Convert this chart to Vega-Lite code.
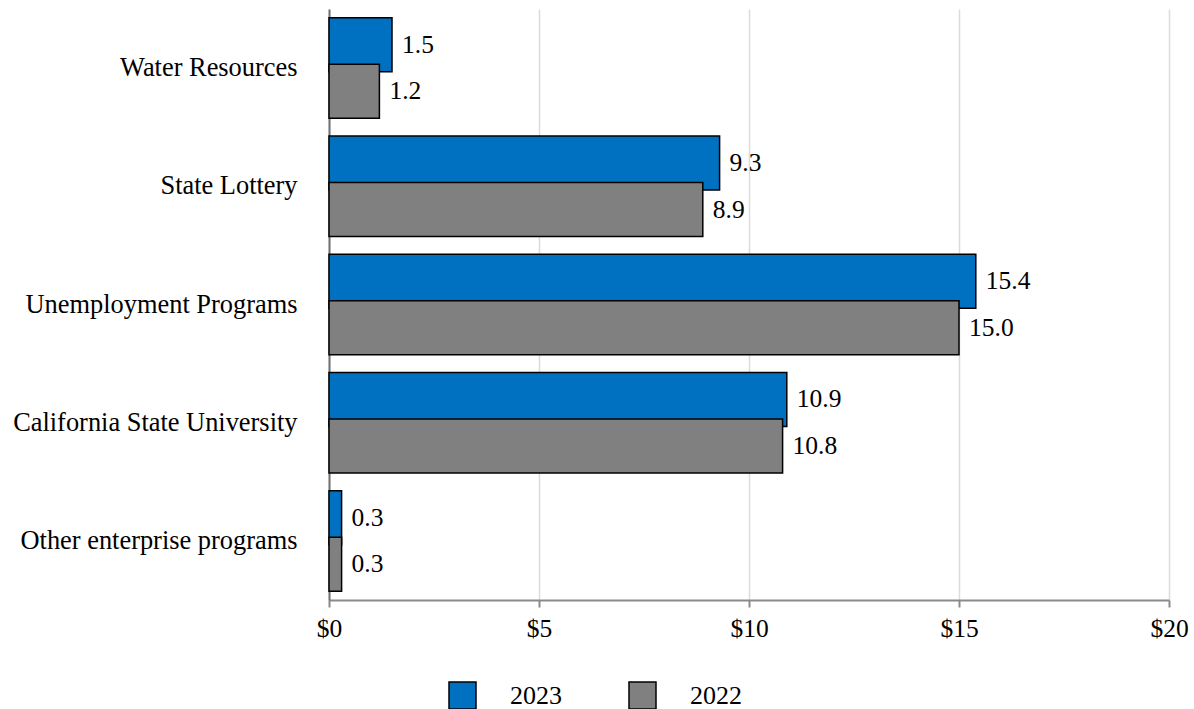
{
  "$schema": "https://vega.github.io/schema/vega-lite/v6.json",
  "autosize": "none",
  "width": 840,
  "height": 591,
  "padding": {"left": 329, "top": 9, "right": 25, "bottom": 109},
  "background": "white",
  "config": {
    "font": "Liberation Serif, Times New Roman, serif",
    "view": {"stroke": null},
    "text": {"font": "Liberation Serif, Times New Roman, serif"},
    "axis": {"labelFont": "Liberation Serif, Times New Roman, serif", "labelColor": "black"},
    "legend": {"labelFont": "Liberation Serif, Times New Roman, serif", "labelColor": "black"}
  },
  "data": {
    "values": [
      {"category": "Water Resources", "year": "2023", "value": 1.5},
      {"category": "State Lottery", "year": "2023", "value": 9.3},
      {"category": "Unemployment Programs", "year": "2023", "value": 15.4},
      {"category": "California State University", "year": "2023", "value": 10.9},
      {"category": "Other enterprise programs", "year": "2023", "value": 0.3},
      {"category": "Water Resources", "year": "2022", "value": 1.2},
      {"category": "State Lottery", "year": "2022", "value": 8.9},
      {"category": "Unemployment Programs", "year": "2022", "value": 15.0},
      {"category": "California State University", "year": "2022", "value": 10.8},
      {"category": "Other enterprise programs", "year": "2022", "value": 0.3}
    ]
  },
  "encoding": {
    "y": {
      "field": "category",
      "type": "nominal",
      "sort": ["Water Resources", "State Lottery", "Unemployment Programs", "California State University", "Other enterprise programs"],
      "scale": {"paddingInner": 0, "paddingOuter": 0},
      "axis": {
        "title": null,
        "ticks": false,
        "labelPadding": 32,
        "labelFontSize": 26.4,
        "labelLimit": 500,
        "domainColor": "#707070",
        "domainWidth": 2,
        "grid": false
      }
    },
    "yOffset": {
      "field": "year",
      "type": "nominal",
      "sort": ["2023", "2022"],
      "scale": {"paddingInner": 0, "paddingOuter": 0.27}
    },
    "x": {
      "field": "value",
      "type": "quantitative",
      "scale": {"domain": [0, 20], "nice": false},
      "axis": {
        "title": null,
        "values": [0, 5, 10, 15, 20],
        "format": "$,.0f",
        "labelFontSize": 25.5,
        "labelPadding": 9,
        "labelFlush": false,
        "tickSize": 7,
        "tickWidth": 2,
        "tickColor": "#8a8a8a",
        "domainColor": "#8a8a8a",
        "domainWidth": 2,
        "grid": true,
        "gridColor": "#dcdcdc",
        "gridWidth": 1.5
      }
    }
  },
  "layer": [
    {
      "mark": {"type": "bar", "height": 54, "stroke": "black", "strokeWidth": 1.5},
      "encoding": {
        "color": {
          "field": "year",
          "type": "nominal",
          "scale": {"domain": ["2023", "2022"], "range": ["#0070C0", "#808080"]},
          "legend": {
            "title": null,
            "orient": "none",
            "legendX": 119,
            "legendY": 672,
            "direction": "horizontal",
            "symbolType": "square",
            "symbolSize": 729,
            "symbolStrokeColor": "black",
            "symbolStrokeWidth": 1.5,
            "symbolOpacity": 1,
            "labelFontSize": 26,
            "labelOffset": 33,
            "columnPadding": 64
          }
        }
      }
    },
    {
      "mark": {"type": "text", "align": "left", "baseline": "middle", "dx": 10, "fontSize": 25.5, "color": "black", "font": "Liberation Serif, Times New Roman, serif"},
      "encoding": {
        "text": {"field": "value", "type": "quantitative", "format": ".1f"}
      }
    }
  ]
}
